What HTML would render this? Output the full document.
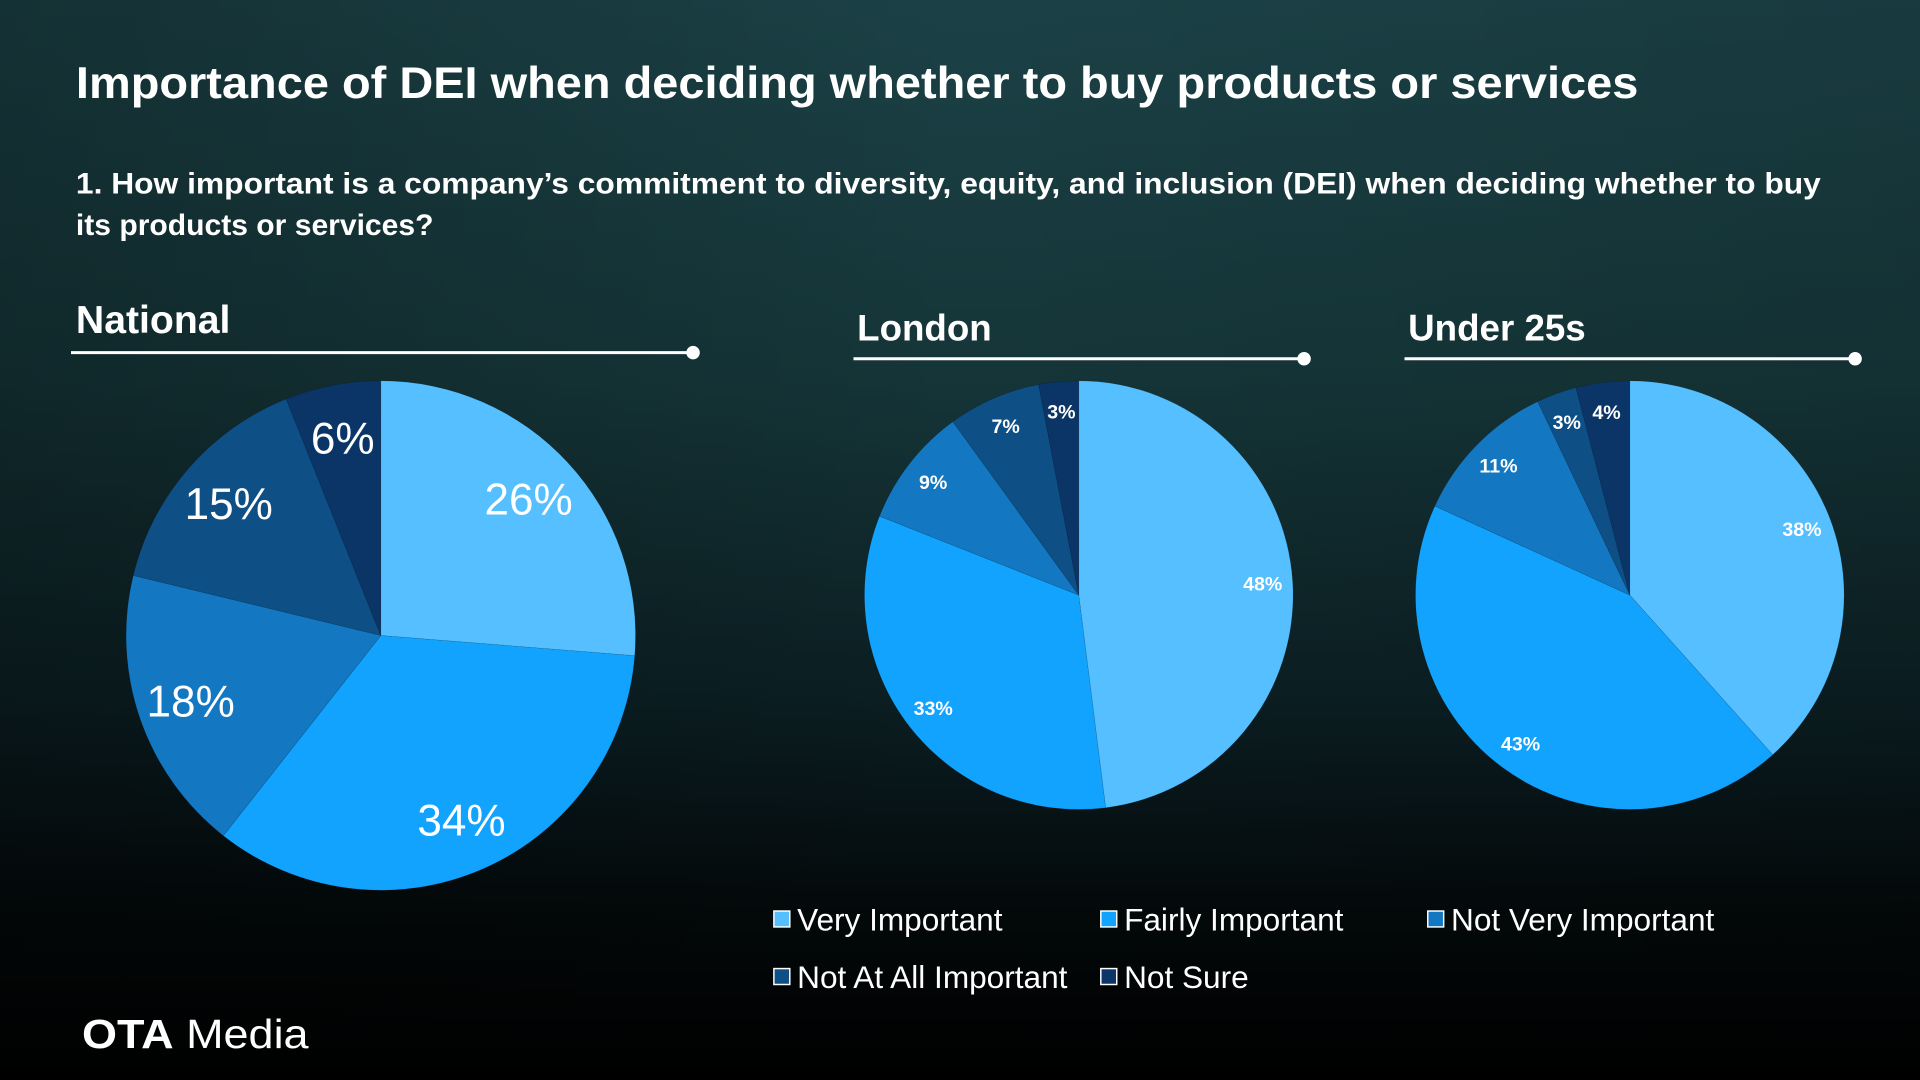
<!DOCTYPE html>
<html><head><meta charset="utf-8"><style>
html,body{margin:0;padding:0;width:1920px;height:1080px;overflow:hidden;background:#000}
svg{display:block}
text{font-family:"Liberation Sans",sans-serif;fill:#fff}
</style></head><body>
<svg id="chart" width="1920" height="1080" viewBox="0 0 1568 882" xmlns="http://www.w3.org/2000/svg">
<defs>
<linearGradient id="bg" x1="0" y1="0" x2="0" y2="1">
<stop offset="0" stop-color="#1b4146"/>
<stop offset="0.35" stop-color="#153538"/>
<stop offset="0.65" stop-color="#0b1e22"/>
<stop offset="0.85" stop-color="#030809"/>
<stop offset="1" stop-color="#000"/>
</linearGradient>
<linearGradient id="bgx" x1="0" y1="0" x2="1" y2="0">
<stop offset="0" stop-color="#000" stop-opacity="0.25"/>
<stop offset="0.5" stop-color="#000" stop-opacity="0"/>
<stop offset="1" stop-color="#000" stop-opacity="0.1"/>
</linearGradient>
</defs>
<rect x="0" y="0" width="1568" height="882" fill="url(#bg)"/>
<rect x="0" y="0" width="1568" height="882" fill="url(#bgx)"/>
<text x="62" y="80" font-size="36" font-weight="bold" textLength="1276" lengthAdjust="spacingAndGlyphs">Importance of DEI when deciding whether to buy products or services</text>
<text x="62" y="158" font-size="24" font-weight="bold" textLength="1425" lengthAdjust="spacingAndGlyphs">1. How important is a company’s commitment to diversity, equity, and inclusion (DEI) when deciding whether to buy</text>
<text x="62" y="192" font-size="24" font-weight="bold" textLength="292" lengthAdjust="spacingAndGlyphs">its products or services?</text>
<g id="pies"></g>
<g id="legend"></g>
<text x="67" y="856" font-size="33" textLength="185" lengthAdjust="spacingAndGlyphs"><tspan font-weight="bold">OTA</tspan> Media</text>
</svg>
<script>
const categories = ["Very Important","Fairly Important","Not Very Important","Not At All Important","Not Sure"];
const nationalValues = [26,34,18,15,6];
const londonValues = [48,33,9,7,3];
const under25Values = [38,43,11,3,4];
const pieTitles = ["National","London","Under 25s"];
const colors = ["#55bfff","#12a3ff","#1377c2","#0e4f86","#0b3566"];
const NS="http://www.w3.org/2000/svg";
const pg=document.getElementById('pies');
function mk(tag,attrs,parent){const e=document.createElementNS(NS,tag);for(const k in attrs)e.setAttribute(k,attrs[k]);(parent||pg).appendChild(e);return e;}
const pies=[
 {values:nationalValues,title:pieTitles[0],cx:311,cy:519,r:208,fs:36,lf:0.79,tx:62,ty:272,ts:32,lx1:58,lx2:566,ly:288,bold:false},
 {values:londonValues,title:pieTitles[1],cx:881,cy:486,r:175,fs:16,lf:0.86,tx:700,ty:278,ts:30,lx1:697,lx2:1065,ly:293,bold:true},
 {values:under25Values,title:pieTitles[2],cx:1331,cy:486,r:175,fs:16,lf:0.86,tx:1150,ty:278,ts:30,lx1:1147,lx2:1515,ly:293,bold:true}
];
pies.forEach((p,pi)=>{
 const g=mk('g',{});
 
 
 const t=mk('text',{x:p.tx,y:p.ty,'font-size':p.ts,'font-weight':'bold'},g);
 t.textContent=p.title;
 
 
 const ln=mk('line',{x1:p.lx1,y1:p.ly,x2:p.lx2,y2:p.ly,stroke:'#fff','stroke-width':2.5},g);
 
 
 mk('circle',{cx:p.lx2,cy:p.ly,r:5.5,fill:'#fff'},g);
 const total=p.values.reduce((a,b)=>a+b,0);
 let a0=0;
 p.values.forEach((v,i)=>{
  const a1=a0+v/total*2*Math.PI;
  const x0=p.cx+p.r*Math.sin(a0),y0=p.cy-p.r*Math.cos(a0);
  const x1=p.cx+p.r*Math.sin(a1),y1=p.cy-p.r*Math.cos(a1);
  const large=(a1-a0)>Math.PI?1:0;
  const path=mk('path',{d:`M${p.cx},${p.cy}L${x0},${y0}A${p.r},${p.r} 0 ${large} 1 ${x1},${y1}Z`,fill:colors[i],stroke:'rgba(0,0,0,0.15)','stroke-width':0.5},g);
  
  
  const am=(a0+a1)/2;
  const lx=p.cx+p.r*p.lf*Math.sin(am),ly=p.cy-p.r*p.lf*Math.cos(am);
  const lt=mk('text',{x:lx,y:ly+p.fs*0.35,'font-size':p.fs,'text-anchor':'middle','font-weight':p.bold?'bold':'normal'},g);
  lt.textContent=v+'%';
  
  
  a0=a1;
 });
});
const lg=document.getElementById('legend');
const legPos=[[632,751],[899,751],[1166,751],[632,798],[899,798]];
categories.forEach((c,i)=>{
 const [x,y]=legPos[i];
 const e=mk('g',{},lg);
 
 
 mk('rect',{x:x,y:y-7,width:13,height:13,fill:colors[i],stroke:'#fff','stroke-width':1.2},e);
 const t=mk('text',{x:x+19,y:y+9,'font-size':25.8},e);
 t.textContent=c;
});
</script>
</body></html>
